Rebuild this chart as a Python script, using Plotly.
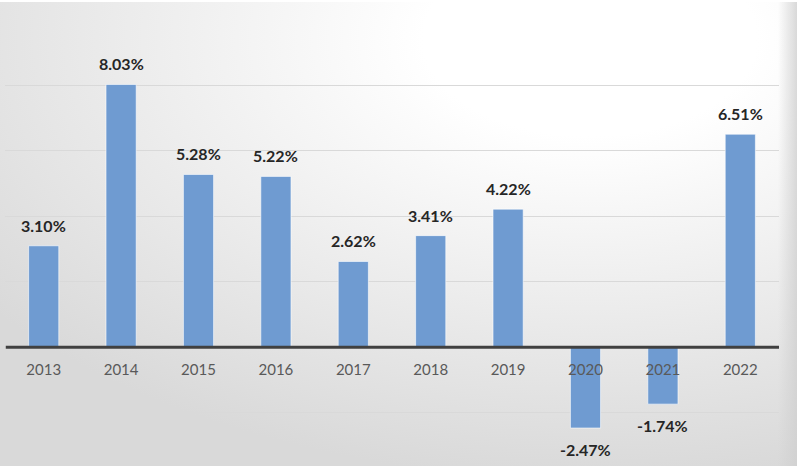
import base64
import plotly.graph_objects as go

years = ["2013", "2014", "2015", "2016", "2017", "2018", "2019", "2020", "2021", "2022"]
growth = [3.10, 8.03, 5.28, 5.22, 2.62, 3.41, 4.22, -2.47, -1.74, 6.51]
labels = ["3.10%", "8.03%", "5.28%", "5.22%", "2.62%", "3.41%", "4.22%", "-2.47%", "-1.74%", "6.51%"]

W, H = 803, 471
ML, MR, MT, MB = 5, 24, 20, 6
YMIN, YMAX = -3.6, 10

svg = f'''<svg xmlns="http://www.w3.org/2000/svg" width="797" height="467" viewBox="0 0 797 467">
<defs>
<radialGradient id="g" cx="0.74" cy="0.08" r="0.95" fx="0.74" fy="0.08">
<stop offset="0" stop-color="#ffffff"/>
<stop offset="0.22" stop-color="#ffffff"/>
<stop offset="1" stop-color="#d9d9d9"/>
</radialGradient>
<linearGradient id="e" x1="0" y1="0" x2="1" y2="0">
<stop offset="0" stop-color="#d0d0d0" stop-opacity="0"/>
<stop offset="1" stop-color="#d0d0d0" stop-opacity="0.8"/>
</linearGradient>
</defs>
<rect x="0" y="2" width="797" height="464" fill="url(#g)"/>
<rect x="778" y="2" width="19" height="464" fill="url(#e)"/>
</svg>'''
src = "data:image/svg+xml;base64," + base64.b64encode(svg.encode()).decode()

pw = W - ML - MR
ph = H - MT - MB

fig = go.Figure()
fig.add_trace(go.Bar(
    x=years, y=growth,
    marker=dict(color="#6f9bd1", line=dict(color="rgba(255,255,255,0.6)", width=1)),
    width=0.39, hoverinfo="skip",
))

for i, (v, lab) in enumerate(zip(growth, labels)):
    pos = v >= 0
    fig.add_annotation(
        x=i, y=v, xref="x", yref="y", text=lab, showarrow=False,
        yanchor="bottom" if pos else "top", yshift=9 if pos else -10,
        font=dict(family="Lato", size=16, color="#262626", weight="bold"),
    )

# zero baseline across the plot area
fig.add_shape(type="line", xref="paper", x0=0.001, x1=1, yref="y", y0=0, y1=0,
              line=dict(color="#404040", width=3), layer="above")

zero_frac = (0 - YMIN) / (YMAX - YMIN)

fig.update_layout(
    width=W, height=H,
    margin=dict(l=ML, r=MR, t=MT, b=MB),
    paper_bgcolor="white",
    plot_bgcolor="rgba(0,0,0,0)",
    showlegend=False,
    images=[dict(source=src, xref="paper", yref="paper",
                 x=-ML / pw, y=1 + MT / ph, sizex=797 / pw, sizey=467 / ph,
                 xanchor="left", yanchor="top", sizing="stretch", layer="below")],
    xaxis=dict(type="category", anchor="free", position=zero_frac,
               range=[-0.5, len(years) - 0.5], autorange=False,
               showgrid=False, showline=False, ticks="", zeroline=False,
               tickfont=dict(family="Lato", size=15, color="#595959"),
               ticklabelstandoff=12),
    yaxis=dict(range=[YMIN, YMAX], autorange=False, dtick=2, tick0=0, showticklabels=False,
               showgrid=True, gridcolor="#d9d9d9", gridwidth=1,
               zeroline=False, showline=False, ticks=""),
)

fig.write_html("out.html", config={"displayModeBar": False},
               post_script="document.body.style.margin='0';document.body.style.padding='0';")
